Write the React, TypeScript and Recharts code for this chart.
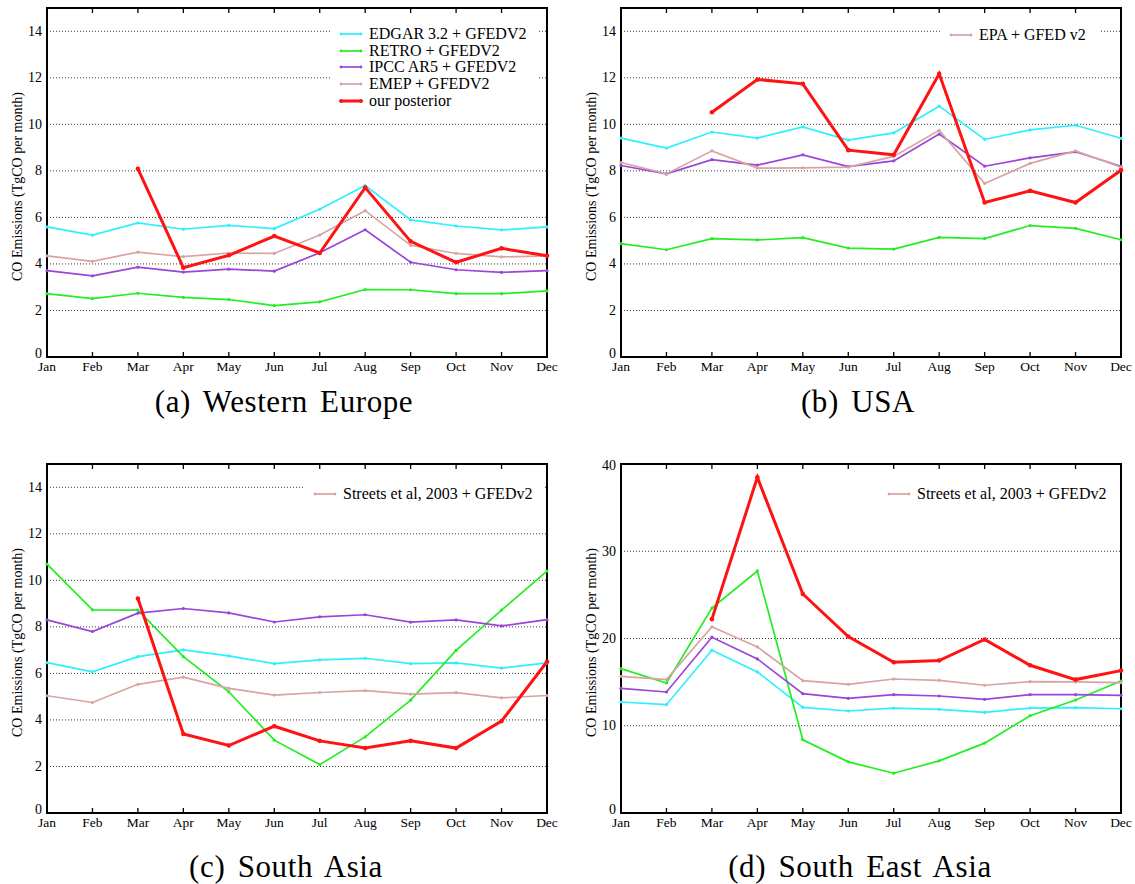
import React from 'react';
import { LineChart, Line, XAxis, YAxis, CartesianGrid, ReferenceArea, Legend } from 'recharts';

const FONT = "'Liberation Serif', 'DejaVu Serif', 'Noto Serif', serif";

const MONTHS = ['Jan', 'Feb', 'Mar', 'Apr', 'May', 'Jun', 'Jul', 'Aug', 'Sep', 'Oct', 'Nov', 'Dec'];

// (a) Western Europe
const weEdgar = [5.59, 5.24, 5.76, 5.49, 5.66, 5.52, 6.35, 7.37, 5.89, 5.63, 5.46, 5.59];
const weRetro = [2.72, 2.51, 2.74, 2.56, 2.47, 2.21, 2.37, 2.9, 2.89, 2.72, 2.72, 2.84];
const weIpcc = [3.71, 3.49, 3.86, 3.65, 3.78, 3.69, 4.48, 5.47, 4.07, 3.75, 3.64, 3.71];
const weEmep = [4.35, 4.11, 4.51, 4.31, 4.47, 4.45, 5.24, 6.29, 4.8, 4.45, 4.3, 4.35];
const wePost = [null, null, 8.09, 3.84, 4.37, 5.2, 4.47, 7.28, 4.97, 4.07, 4.67, 4.35];

// (b) USA
const usEdgar = [9.41, 8.98, 9.67, 9.41, 9.89, 9.32, 9.63, 10.78, 9.35, 9.76, 9.96, 9.4];
const usRetro = [4.87, 4.61, 5.09, 5.03, 5.13, 4.68, 4.64, 5.14, 5.09, 5.65, 5.53, 5.04];
const usIpcc = [8.23, 7.87, 8.48, 8.25, 8.69, 8.18, 8.43, 9.58, 8.2, 8.56, 8.82, 8.2];
const usEpa = [8.36, 7.87, 8.86, 8.12, 8.13, 8.16, 8.62, 9.74, 7.46, 8.32, 8.86, 8.16];
const usPost = [null, null, 10.52, 11.93, 11.74, 8.89, 8.69, 12.17, 6.64, 7.14, 6.64, 8.03];

// (c) South Asia
const saEdgar = [6.46, 6.07, 6.72, 7.01, 6.75, 6.42, 6.58, 6.65, 6.42, 6.45, 6.23, 6.45];
const saRetro = [10.7, 8.73, 8.72, 6.72, 5.21, 3.13, 2.08, 3.27, 4.85, 6.99, 8.72, 10.4];
const saIpcc = [8.3, 7.8, 8.59, 8.79, 8.6, 8.21, 8.43, 8.52, 8.2, 8.3, 8.04, 8.31];
const saStreets = [5.04, 4.75, 5.53, 5.84, 5.36, 5.07, 5.18, 5.26, 5.11, 5.17, 4.95, 5.05];
const saPost = [null, null, 9.22, 3.4, 2.9, 3.73, 3.1, 2.79, 3.1, 2.79, 3.95, 6.5];

// (d) South East Asia
const seaEdgar = [12.72, 12.41, 18.66, 16.17, 12.11, 11.69, 12.03, 11.88, 11.53, 12.03, 12.07, 11.95];
const seaRetro = [16.55, 14.9, 23.49, 27.74, 8.39, 5.86, 4.56, 5.98, 8.01, 11.15, 12.95, 15.13];
const seaIpcc = [14.29, 13.87, 20.15, 17.66, 13.68, 13.14, 13.56, 13.41, 13.03, 13.56, 13.56, 13.49];
const seaStreets = [15.67, 15.29, 21.34, 19.04, 15.17, 14.75, 15.36, 15.21, 14.64, 15.06, 15.02, 14.94];
const seaPost = [null, null, 22.22, 38.47, 25.1, 20.23, 17.28, 17.47, 19.89, 16.93, 15.29, 16.32];

const TICKS_15 = [0, 2, 4, 6, 8, 10, 12, 14];
const TICKS_40 = [0, 10, 20, 30, 40];

const C_EDGAR = '#2cf0ff';
const C_RETRO = '#22ee22';
const C_IPCC = '#9a45d8';
const C_EMEP = '#d9a3a3';
const C_POST = '#ff1212';

const PLOT_TOP = 8;

type Series = { key: string; values: (number | null)[]; color: string; width: number; r: number };
type LegendItem = { label: string; color: string; width: number };

const buildRows = (series: Series[]) =>
  MONTHS.map((m, i) => {
    const row: Record<string, string | number | null> = { month: m };
    series.forEach((s) => {
      row[s.key] = s.values[i];
    });
    return row;
  });

const XTick = (props: any) => {
  const { x, y, payload } = props;
  return (
    <g>
      <line x1={x} y1={y} x2={x} y2={y - 5} stroke="#000" strokeWidth={1.3} />
      <line x1={x} y1={PLOT_TOP} x2={x} y2={PLOT_TOP + 5} stroke="#000" strokeWidth={1.3} />
      <text x={x} y={y + 14} textAnchor="middle" fontSize={13.5} style={{ fontFamily: FONT }} fill="#000">
        {payload.value}
      </text>
    </g>
  );
};

const YTick = (props: any) => {
  const { x, y, payload } = props;
  return (
    <text x={x} y={y} dy={payload.value === 0 ? 1 : 4.5} textAnchor="end" fontSize={14} style={{ fontFamily: FONT }} fill="#000">
      {payload.value}
    </text>
  );
};

const LegendBox = ({ items }: { items: LegendItem[] }) => (
  <div style={{ fontFamily: FONT }}>
    {items.map((it) => (
      <div key={it.label} style={{ display: 'flex', alignItems: 'center', height: 16.6 }}>
        <svg width={24} height={10} style={{ flex: 'none' }}>
          <line x1={2} y1={5} x2={22} y2={5} stroke={it.color} strokeWidth={it.width} />
          <circle cx={2} cy={5} r={it.width > 2 ? 2 : 1.4} fill={it.color} />
          <circle cx={22} cy={5} r={it.width > 2 ? 2 : 1.4} fill={it.color} />
        </svg>
        <span style={{ marginLeft: 6, fontSize: 16, lineHeight: '16px', color: '#000', whiteSpace: 'nowrap', fontFamily: FONT }}>
          {it.label}
        </span>
      </div>
    ))}
  </div>
);

type PanelProps = {
  left: number;
  top: number;
  series: Series[];
  yMax: number;
  yTicks: number[];
  legend: LegendItem[];
  legendBox: React.CSSProperties;
};

const Panel = ({ left, top, series, yMax, yTicks, legend, legendBox }: PanelProps) => {
  const rows = buildRows(series);
  return (
    <div style={{ position: 'absolute', left, top, fontFamily: FONT }}>
      <LineChart width={560} height={380} data={rows} margin={{ top: PLOT_TOP, right: 13, bottom: 3, left: 0 }}>
        <CartesianGrid horizontal vertical={false} stroke="#333" strokeDasharray="1 2" strokeWidth={1} />
        <XAxis
          dataKey="month"
          interval={0}
          height={20}
          tickSize={0}
          tickMargin={0}
          tickLine={false}
          axisLine={false}
          tick={<XTick />}
        />
        <YAxis
          type="number"
          domain={[0, yMax]}
          ticks={yTicks}
          width={47}
          tickSize={0}
          tickMargin={5}
          tickLine={false}
          axisLine={false}
          allowDataOverflow
          tick={<YTick />}
          label={{
            value: 'CO Emissions (TgCO per month)',
            angle: -90,
            position: 'insideLeft',
            offset: 17,
            dy: 4,
            style: { textAnchor: 'middle', fontSize: 14, fill: '#000', fontFamily: FONT },
          }}
        />
        {series.map((s) => (
          <Line
            key={s.key}
            dataKey={s.key}
            type="linear"
            stroke={s.color}
            strokeWidth={s.width}
            dot={{ r: s.r, fill: s.color, stroke: 'none' }}
            activeDot={false}
            isAnimationActive={false}
            connectNulls={false}
          />
        ))}
        <ReferenceArea
          x1="Jan"
          x2="Dec"
          y1={0}
          y2={yMax}
          fill="none"
          stroke="#000"
          strokeWidth={2}
          ifOverflow="visible"
        />
        <Legend
          layout="horizontal"
          verticalAlign="middle"
          align="center"
          content={() => <LegendBox items={legend} />}
          wrapperStyle={legendBox}
        />
      </LineChart>
    </div>
  );
};

const Caption = ({ text, cx, top }: { text: string; cx: number; top: number }) => (
  <div
    style={{
      position: 'absolute',
      left: cx,
      top,
      transform: 'translateX(-50%)',
      fontFamily: FONT,
      fontSize: 31,
      lineHeight: '31px',
      letterSpacing: 0.6,
      wordSpacing: 4,
      whiteSpace: 'nowrap',
      color: '#000',
    }}
  >
    {text}
  </div>
);

const thin = (key: string, values: (number | null)[], color: string): Series => ({ key, values, color, width: 1.7, r: 1.6 });
const post = (values: (number | null)[]): Series => ({ key: 'posterior', values, color: C_POST, width: 3, r: 2.3 });

export default function App() {
  const streetsLegend = [{ label: 'Streets et al, 2003 + GFEDv2', color: C_EMEP, width: 1.7 }];
  return (
    <div style={{ position: 'absolute', left: 0, top: 0, width: 1135, height: 884, background: '#fff', overflow: 'hidden', fontFamily: FONT }}>
      <Panel
        left={0}
        top={0}
        yMax={15}
        yTicks={TICKS_15}
        series={[
          thin('edgar', weEdgar, C_EDGAR),
          thin('retro', weRetro, C_RETRO),
          thin('ipcc', weIpcc, C_IPCC),
          thin('emep', weEmep, C_EMEP),
          post(wePost),
        ]}
        legend={[
          { label: 'EDGAR 3.2 + GFEDV2', color: C_EDGAR, width: 1.7 },
          { label: 'RETRO + GFEDV2', color: C_RETRO, width: 1.7 },
          { label: 'IPCC AR5 + GFEDV2', color: C_IPCC, width: 1.7 },
          { label: 'EMEP + GFEDV2', color: C_EMEP, width: 1.7 },
          { label: 'our posterior', color: C_POST, width: 3 },
        ]}
        legendBox={{ left: 330, top: 19, width: 208, height: 92, background: '#fff', paddingLeft: 9, paddingTop: 7, boxSizing: 'border-box' }}
      />
      <Panel
        left={574}
        top={0}
        yMax={15}
        yTicks={TICKS_15}
        series={[
          thin('edgar', usEdgar, C_EDGAR),
          thin('retro', usRetro, C_RETRO),
          thin('ipcc', usIpcc, C_IPCC),
          thin('epa', usEpa, C_EMEP),
          post(usPost),
        ]}
        legend={[{ label: 'EPA + GFED v2', color: C_EMEP, width: 1.7 }]}
        legendBox={{ left: 366, top: 24, width: 160, height: 22, background: '#fff', paddingLeft: 9, paddingTop: 3, boxSizing: 'border-box' }}
      />
      <Panel
        left={0}
        top={456}
        yMax={15}
        yTicks={TICKS_15}
        series={[
          thin('edgar', saEdgar, C_EDGAR),
          thin('retro', saRetro, C_RETRO),
          thin('ipcc', saIpcc, C_IPCC),
          thin('streets', saStreets, C_EMEP),
          post(saPost),
        ]}
        legend={streetsLegend}
        legendBox={{ left: 305, top: 27, width: 240, height: 22, background: '#fff', paddingLeft: 8, paddingTop: 3, boxSizing: 'border-box' }}
      />
      <Panel
        left={574}
        top={456}
        yMax={40}
        yTicks={TICKS_40}
        series={[
          thin('edgar', seaEdgar, C_EDGAR),
          thin('retro', seaRetro, C_RETRO),
          thin('ipcc', seaIpcc, C_IPCC),
          thin('streets', seaStreets, C_EMEP),
          post(seaPost),
        ]}
        legend={streetsLegend}
        legendBox={{ left: 305, top: 27, width: 240, height: 22, background: '#fff', paddingLeft: 8, paddingTop: 3, boxSizing: 'border-box' }}
      />
      <Caption text="(a) Western Europe" cx={284} top={386} />
      <Caption text="(b) USA" cx={858} top={386} />
      <Caption text="(c) South Asia" cx={286} top={851} />
      <Caption text="(d) South East Asia" cx={860} top={851} />
    </div>
  );
}
